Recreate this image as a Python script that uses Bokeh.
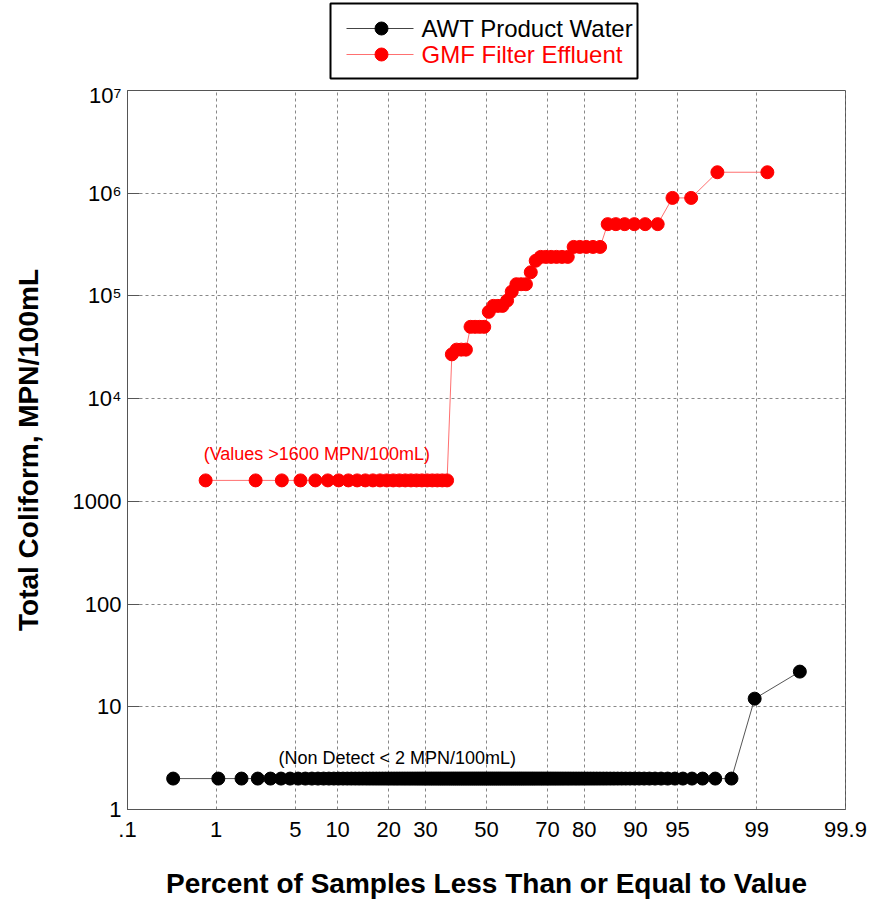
import math
from bokeh.plotting import figure
from bokeh.models import Range1d, FixedTicker, CustomJSTickFormatter, Label
from bokeh.layouts import column
from bokeh.core.properties import value
from bokeh.embed import file_html
from bokeh.resources import INLINE

# ---------------- data ----------------
AWT_LABEL = "AWT Product Water"
GMF_LABEL = "GMF Filter Effluent"
X_TITLE = "Percent of Samples Less Than or Equal to Value"
Y_TITLE = "Total Coliform, MPN/100mL"

# sorted sample values (MPN/100mL)
awt_values = [2] * 141 + [12, 22]
gmf_values = ([1600] * 24 + [27000] + [30000] * 3 + [50000] * 4 + [70000]
              + [80000] * 3 + [90000] + [110000] + [130000] * 3 + [170000]
              + [220000] + [240000] * 6 + [300000] * 5 + [500000] * 6
              + [900000] * 2 + [1600000] * 2)

x_tick_percents = [0.1, 1, 5, 10, 20, 30, 50, 70, 80, 90, 95, 99, 99.9]
x_tick_labels = [".1", "1", "5", "10", "20", "30", "50", "70", "80", "90", "95", "99", "99.9"]
y_ticks = [1, 10, 100, 1000, 1e4, 1e5, 1e6, 1e7]
y_tick_labels = ["1", "10", "100", "1000", "10\u2074", "10\u2075", "10\u2076", "10\u2077"]

FONT = "Liberation Sans"


def norm_ppf(p):
    """Inverse standard normal CDF (Acklam), symmetric form."""
    if p > 0.5:
        return -norm_ppf(1.0 - p)
    a = [-3.969683028665376e+01, 2.209460984245205e+02, -2.759285104469687e+02,
         1.383577518672690e+02, -3.066479806614716e+01, 2.506628277459239e+00]
    b = [-5.447609879822406e+01, 1.615858368580409e+02, -1.556989798598866e+02,
         6.680131188771972e+01, -1.328068155288572e+01]
    c = [-7.784894002430293e-03, -3.223964580411365e-01, -2.400758277161838e+00,
         -2.549732539343734e+00, 4.374664141464968e+00, 2.938163982698783e+00]
    d = [7.784695709041462e-03, 3.224671290700398e-01, 2.445134137142996e+00,
         3.754408661907416e+00]
    if p < 0.02425:
        q = math.sqrt(-2 * math.log(p))
        return (((((c[0]*q+c[1])*q+c[2])*q+c[3])*q+c[4])*q+c[5]) / ((((d[0]*q+d[1])*q+d[2])*q+d[3])*q+1)
    q = p - 0.5
    r = q * q
    return (((((a[0]*r+a[1])*r+a[2])*r+a[3])*r+a[4])*r+a[5])*q / (((((b[0]*r+b[1])*r+b[2])*r+b[3])*r+b[4])*r+1)


def prob_positions(vals):
    n = len(vals)
    return [norm_ppf((i + 0.5) / n) for i in range(n)]


awt_z = prob_positions(awt_values)
gmf_z = prob_positions(gmf_values)
x_tick_z = [norm_ppf(pc / 100.0) for pc in x_tick_percents]
zlim = max(abs(x_tick_z[0]), abs(x_tick_z[-1])) + 1e-6

# layout constants (pixels)
FRAME_L, FRAME_R = 127, 845

# ---------------- main figure ----------------
p = figure(width=870, height=823, x_range=Range1d(-zlim, zlim), y_range=Range1d(1, 1e7),
           y_axis_type="log", output_backend="svg", toolbar_location=None,
           min_border_left=FRAME_L, min_border_right=870 - FRAME_R, min_border_top=8,
           min_border_bottom=96,
           background_fill_color="white", border_fill_color="white")
p.outline_line_color = "#555555"
p.outline_line_width = 1

xt = FixedTicker(ticks=x_tick_z)
yt = FixedTicker(ticks=y_ticks)
p.xaxis.ticker = xt
p.yaxis.ticker = yt
p.xgrid.ticker = xt
p.ygrid.ticker = yt
p.xaxis.formatter = CustomJSTickFormatter(args=dict(zt=x_tick_z, labels=x_tick_labels), code="""
let best = 0, bd = 1e9;
for (let i = 0; i < zt.length; i++) { const d = Math.abs(zt[i] - tick); if (d < bd) { bd = d; best = i; } }
return labels[best];
""")
p.yaxis.formatter = CustomJSTickFormatter(args=dict(labels=y_tick_labels), code="""
const k = Math.round(Math.log10(tick));
return labels[k];
""")

for g in (p.xgrid, p.ygrid):
    g.grid_line_color = "#888888"
    g.grid_line_dash = "3 3"
    g.grid_line_width = 1

for ax in (p.xaxis, p.yaxis):
    ax.axis_line_color = "#555555"
    ax.major_label_text_font = FONT
    ax.major_label_text_font_size = "22px"
    ax.major_label_text_color = "black"
    ax.axis_label_text_font = FONT
    ax.axis_label_text_font_size = "28px"
    ax.axis_label_text_font_style = "bold"
    ax.axis_label_text_color = "black"
    ax.minor_tick_line_color = None

p.xaxis.major_tick_in = 0
p.xaxis.major_tick_out = 0
p.xaxis.major_label_standoff = 12
p.xaxis.axis_label = X_TITLE
p.xaxis.axis_label_standoff = 28

p.yaxis.major_tick_in = 12
p.yaxis.major_tick_out = 0
p.yaxis.major_tick_line_color = "#555555"
p.yaxis.major_label_standoff = 6
p.yaxis.axis_label = Y_TITLE
p.yaxis.axis_label_standoff = 26

p.line(awt_z, awt_values, line_color="#555555", line_width=1)
p.scatter(awt_z, awt_values, size=13, fill_color="black", line_color="black")
p.line(gmf_z, gmf_values, line_color="#ff7070", line_width=1)
p.scatter(gmf_z, gmf_values, size=13, fill_color="#ff0000", line_color="#ff0000")

p.add_layout(Label(x=norm_ppf(0.00745), y=2900, text="(Values >1600 MPN/100mL)",
                   text_color="#ff0000", text_font=FONT, text_font_size="18px",
                   text_baseline="middle", text_align="left"))
p.add_layout(Label(x=norm_ppf(0.0367), y=3.2, text="(Non Detect < 2 MPN/100mL)",
                   text_color="black", text_font=FONT, text_font_size="18px",
                   text_baseline="middle", text_align="left"))

# ---------------- legend (strip above the plot, frame aligned with main plot) ----------------
# strip coordinates equal page pixels (x: 127..845 frame, y: 0..82 top-down)
lg = figure(width=870, height=82, x_range=Range1d(FRAME_L, FRAME_R), y_range=Range1d(82, 0),
            output_backend="svg", toolbar_location=None,
            min_border_left=FRAME_L, min_border_right=870 - FRAME_R, min_border_top=0,
            min_border_bottom=0,
            x_axis_location=None, y_axis_location=None, outline_line_color=None)
lg.grid.visible = False
lg.quad(left=[330], right=[637], top=[3], bottom=[78], fill_color=None,
        line_color="black", line_width=2)
rows = [(28, AWT_LABEL, "#444444", "black"), (54, GMF_LABEL, "#ff7070", "#ff0000")]
for yy, lab, lc, mc in rows:
    lg.line([346, 413], [yy, yy], line_color=lc, line_width=1)
    lg.scatter([381], [yy], size=13, fill_color=mc, line_color=mc)
    lg.text(x=[421], y=[yy], text=[lab], text_font=value(FONT), text_font_size="24px",
            text_baseline="middle", text_align="left", text_color=mc)

layout = column(lg, p)
open("out.html", "w").write(file_html(layout, INLINE))
